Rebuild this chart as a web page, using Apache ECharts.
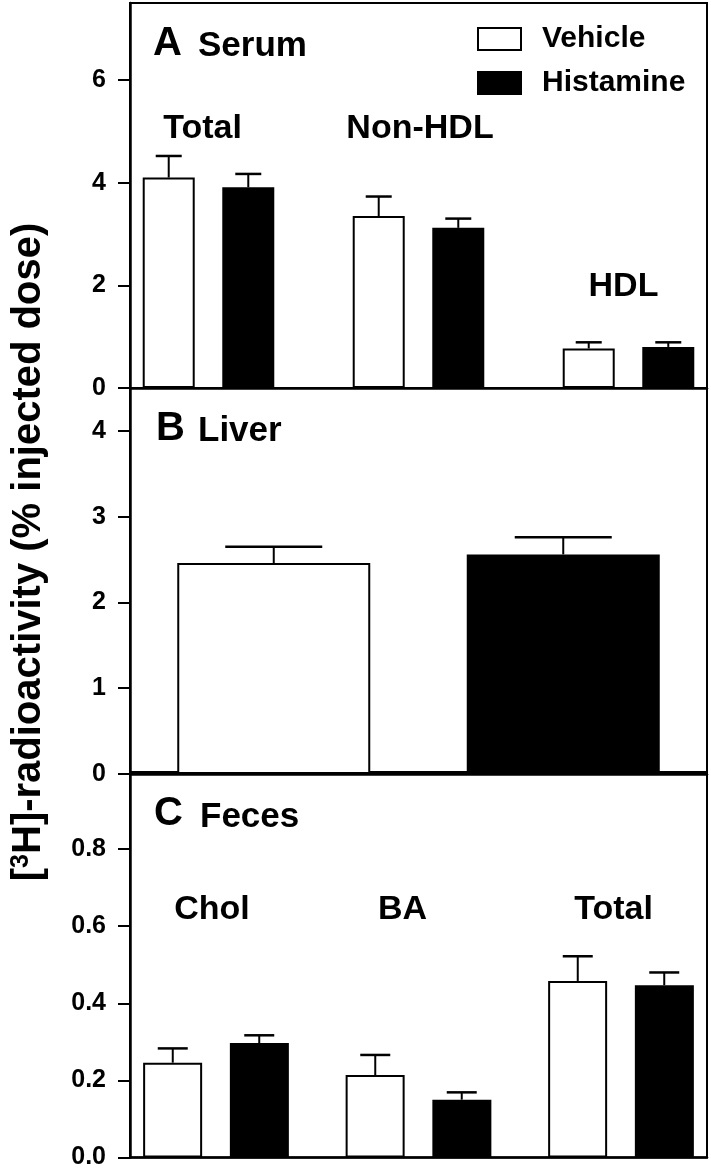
<!DOCTYPE html>
<html><head><meta charset="utf-8">
<script src="https://cdn.jsdelivr.net/npm/echarts@6/dist/echarts.min.js"></script>
<style>html,body{margin:0;padding:0;background:#fff}#c{width:711px;height:1170px}</style>
</head><body><div id="c"></div>
<script>
// ---- data ----
const seriesNames = ['Vehicle', 'Histamine'];

const serumCats = ['Total', 'Non-HDL', 'HDL'];
const serumVehicle = [4.10, 3.35, 0.77];
const serumVehicleSem = [0.42, 0.38, 0.12];
const serumHistamine = [3.91, 3.12, 0.80];
const serumHistamineSem = [0.26, 0.18, 0.09];
const serumTicks = [0, 2, 4, 6];

const liverCats = ['Liver'];
const liverVehicle = [2.46];
const liverVehicleSem = [0.19];
const liverHistamine = [2.56];
const liverHistamineSem = [0.20];
const liverTicks = [0, 1, 2, 3, 4];

const fecesCats = ['Chol', 'BA', 'Total'];
const fecesVehicle = [0.246, 0.214, 0.458];
const fecesVehicleSem = [0.037, 0.052, 0.064];
const fecesHistamine = [0.297, 0.150, 0.447];
const fecesHistamineSem = [0.020, 0.019, 0.033];
const fecesTicks = [0, 0.2, 0.4, 0.6, 0.8];

// ---- layout ----
const FONT = '"Liberation Sans", Arial, Helvetica, sans-serif';
const panels = [
  { cats: serumCats, veh: serumVehicle, vehSem: serumVehicleSem, his: serumHistamine, hisSem: serumHistamineSem,
    ticks: serumTicks, yMax: 7.5, xMin: -0.3738, xMax: 2.3738, top: 3, height: 385,
    barWidth: 52, gapPct: 0.53, cap: 26, fmt: v => String(v) },
  { cats: liverCats, veh: liverVehicle, vehSem: liverVehicleSem, his: liverHistamine, hisSem: liverHistamineSem,
    ticks: liverTicks, yMax: 4.5, xMin: -1, xMax: 1, top: 388, height: 386,
    barWidth: 193, gapPct: 0.5, cap: 97, fmt: v => String(v) },
  { cats: fecesCats, veh: fecesVehicle, vehSem: fecesVehicleSem, his: fecesHistamine, hisSem: fecesHistamineSem,
    ticks: fecesTicks, yMax: 1.0, xMin: -0.4247, xMax: 2.4247, top: 772, height: 387,
    barWidth: 59, gapPct: 0.466, cap: 30, fmt: v => v.toFixed(1) }
];

const grid = [], xAxis = [], yAxis = [], series = [];
panels.forEach((p, i) => {
  grid.push({ left: 130, right: 4, top: p.top, height: p.height, show: true,
    borderColor: '#000', borderWidth: 2, backgroundColor: 'transparent' });
  xAxis.push({ type: 'value', gridIndex: i, min: p.xMin, max: p.xMax,
    axisLine: { show: true, onZero: false, lineStyle: { color: '#000', width: 2.5 } },
    axisTick: { show: false }, axisLabel: { show: false }, splitLine: { show: false } });
  yAxis.push({ type: 'value', gridIndex: i, min: 0, max: p.yMax,
    axisLine: { show: true, onZero: false, lineStyle: { color: '#000', width: 2.5 } },
    axisTick: { show: true, inside: false, length: 12, lineStyle: { color: '#000', width: 2 }, customValues: p.ticks },
    axisLabel: { show: true, margin: 24, color: '#000', fontSize: 25, fontWeight: 'bold', fontFamily: FONT,
      customValues: p.ticks, formatter: p.fmt },
    splitLine: { show: false } });
  const gap = p.barWidth * p.gapPct;
  const off = (p.barWidth + gap) / 2;
  [[p.veh, '#fff', seriesNames[0]], [p.his, '#000', seriesNames[1]]].forEach(([vals, col, name]) => {
    series.push({ type: 'bar', name: name, xAxisIndex: i, yAxisIndex: i,
      barWidth: p.barWidth, barGap: Math.round(p.gapPct * 100) + '%',
      itemStyle: { color: col, borderColor: '#000', borderWidth: 2 },
      data: vals.map((v, k) => [k, v]), z: 2 });
  });
  [[p.veh, p.vehSem, -off], [p.his, p.hisSem, off]].forEach(([vals, sems, o]) => {
    series.push({ type: 'custom', xAxisIndex: i, yAxisIndex: i, z: 3, silent: true,
      data: vals.map((v, k) => [k, v, v + sems[k]]),
      renderItem: (params, api) => {
        const p0 = api.coord([api.value(0), api.value(1)]);
        const p1 = api.coord([api.value(0), api.value(2)]);
        const cx = p0[0] + o, hw = p.cap / 2;
        return { type: 'group', children: [
          { type: 'line', shape: { x1: cx, y1: p0[1], x2: cx, y2: p1[1] }, style: { stroke: '#000', lineWidth: 2 } },
          { type: 'line', shape: { x1: cx - hw, y1: p1[1], x2: cx + hw, y2: p1[1] }, style: { stroke: '#000', lineWidth: 2.5 } }
        ] };
      } });
  });
});

function txt(text, x, y, size, align) {
  return { type: 'text', x: x, y: y, z: 10, style: { text: text, fill: '#000',
    font: 'bold ' + size + 'px ' + FONT, textAlign: align || 'left', textVerticalAlign: 'middle' } };
}

const graphic = [
  txt('A', 153, 44, 40), txt('Serum', 198, 46, 35),
  txt('B', 156, 429, 40), txt('Liver', 198, 431, 35),
  txt('C', 154, 814, 40), txt('Feces', 200, 817, 35),
  txt(serumCats[0], 202.5, 129, 34, 'center'),
  txt(serumCats[1], 420, 129, 34, 'center'),
  txt(serumCats[2], 623.5, 287, 34, 'center'),
  txt(fecesCats[0], 212, 910, 34, 'center'),
  txt(fecesCats[1], 402.5, 910, 34, 'center'),
  txt(fecesCats[2], 613.5, 910, 34, 'center'),
  { type: 'text', x: 29, y: 552, rotation: Math.PI / 2, z: 10,
    style: { text: '{b|[}{s|3}{b|H]-radioactivity (% injected dose)}', textAlign: 'center', textVerticalAlign: 'middle',
      rich: { b: { font: 'bold 40px ' + FONT, fill: '#000' },
              s: { font: 'bold 25px ' + FONT, fill: '#000', verticalAlign: 'top' } } } }
];

const chart = echarts.init(document.getElementById('c'), null, { renderer: 'canvas' });
chart.setOption({
  animation: false,
  backgroundColor: '#fff',
  grid, xAxis, yAxis, series, graphic,
  legend: { data: seriesNames, orient: 'vertical', left: 477, top: 24, padding: 0, itemWidth: 43, itemHeight: 22, itemGap: 14,
    icon: 'rect', selectedMode: false,
    textStyle: { fontSize: 30, fontWeight: 'bold', fontFamily: FONT, color: '#000', padding: [0, 0, 0, 16] } }
});
</script></body></html>
